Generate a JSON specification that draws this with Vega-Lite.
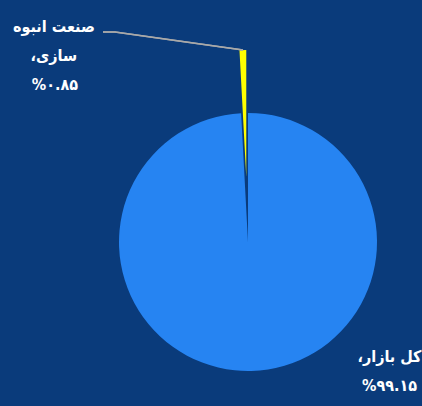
{
  "$schema": "https://vega.github.io/schema/vega-lite/v6.json",
  "width": 348,
  "height": 328,
  "autosize": {"type": "none"},
  "padding": {"left": 74, "top": 78, "right": 0, "bottom": 0},
  "background": "#0a3b7b",
  "config": {
    "view": {"stroke": null},
    "text": {"font": "DejaVu Sans Condensed, DejaVu Sans", "fontSize": 16, "fontWeight": "bold", "color": "white", "align": "center", "baseline": "alphabetic"}
  },
  "data": {
    "values": [
      {"name": "کل بازار", "share": 99.15, "l1": "کل بازار،\u200f", "l2": "%۹۹.۱۵", "l3": ""},
      {"name": "صنعت انبوه سازی", "share": 0.85, "l1": "صنعت انبوه", "l2": "سازی،\u200f", "l3": "%۰.۸۵"}
    ]
  },
  "encoding": {
    "theta": {"field": "share", "type": "quantitative", "stack": true},
    "order": {"field": "share", "sort": "descending"}
  },
  "layer": [
    {
      "mark": {"type": "arc", "radius": 129, "fill": "#2684f2"},
      "encoding": {
        "opacity": {"condition": {"test": "datum.share > 50", "value": 1}, "value": 0}
      }
    },
    {
      "mark": {"type": "arc", "radius": 192, "radius2": 66, "padAngle": 0.017, "fill": "#ffff00"},
      "encoding": {
        "opacity": {"condition": {"test": "datum.share < 50", "value": 1}, "value": 0}
      }
    },
    {
      "mark": {
        "type": "point",
        "shape": "M -5 -192 L -133 -210 L -145 -210",
        "size": 4,
        "filled": false,
        "stroke": "#a9a9a9",
        "strokeWidth": 1.5,
        "opacity": 1
      },
      "encoding": {}
    },
    {
      "mark": {"type": "text", "radius": 192, "dx": -189, "dy": -18},
      "encoding": {"text": {"condition": {"test": "datum.share < 50", "field": "l1"}, "value": ""}}
    },
    {
      "mark": {"type": "text", "radius": 192, "dx": -189, "dy": 11},
      "encoding": {"text": {"condition": {"test": "datum.share < 50", "field": "l2"}, "value": ""}}
    },
    {
      "mark": {"type": "text", "radius": 192, "dx": -188, "dy": 40},
      "encoding": {"text": {"condition": {"test": "datum.share < 50", "field": "l3"}, "value": ""}}
    },
    {
      "mark": {"type": "text", "radius": 130, "dx": 138, "dy": -10},
      "encoding": {"text": {"condition": {"test": "datum.share > 50", "field": "l1"}, "value": ""}}
    },
    {
      "mark": {"type": "text", "radius": 130, "dx": 138, "dy": 19},
      "encoding": {"text": {"condition": {"test": "datum.share > 50", "field": "l2"}, "value": ""}}
    }
  ]
}
